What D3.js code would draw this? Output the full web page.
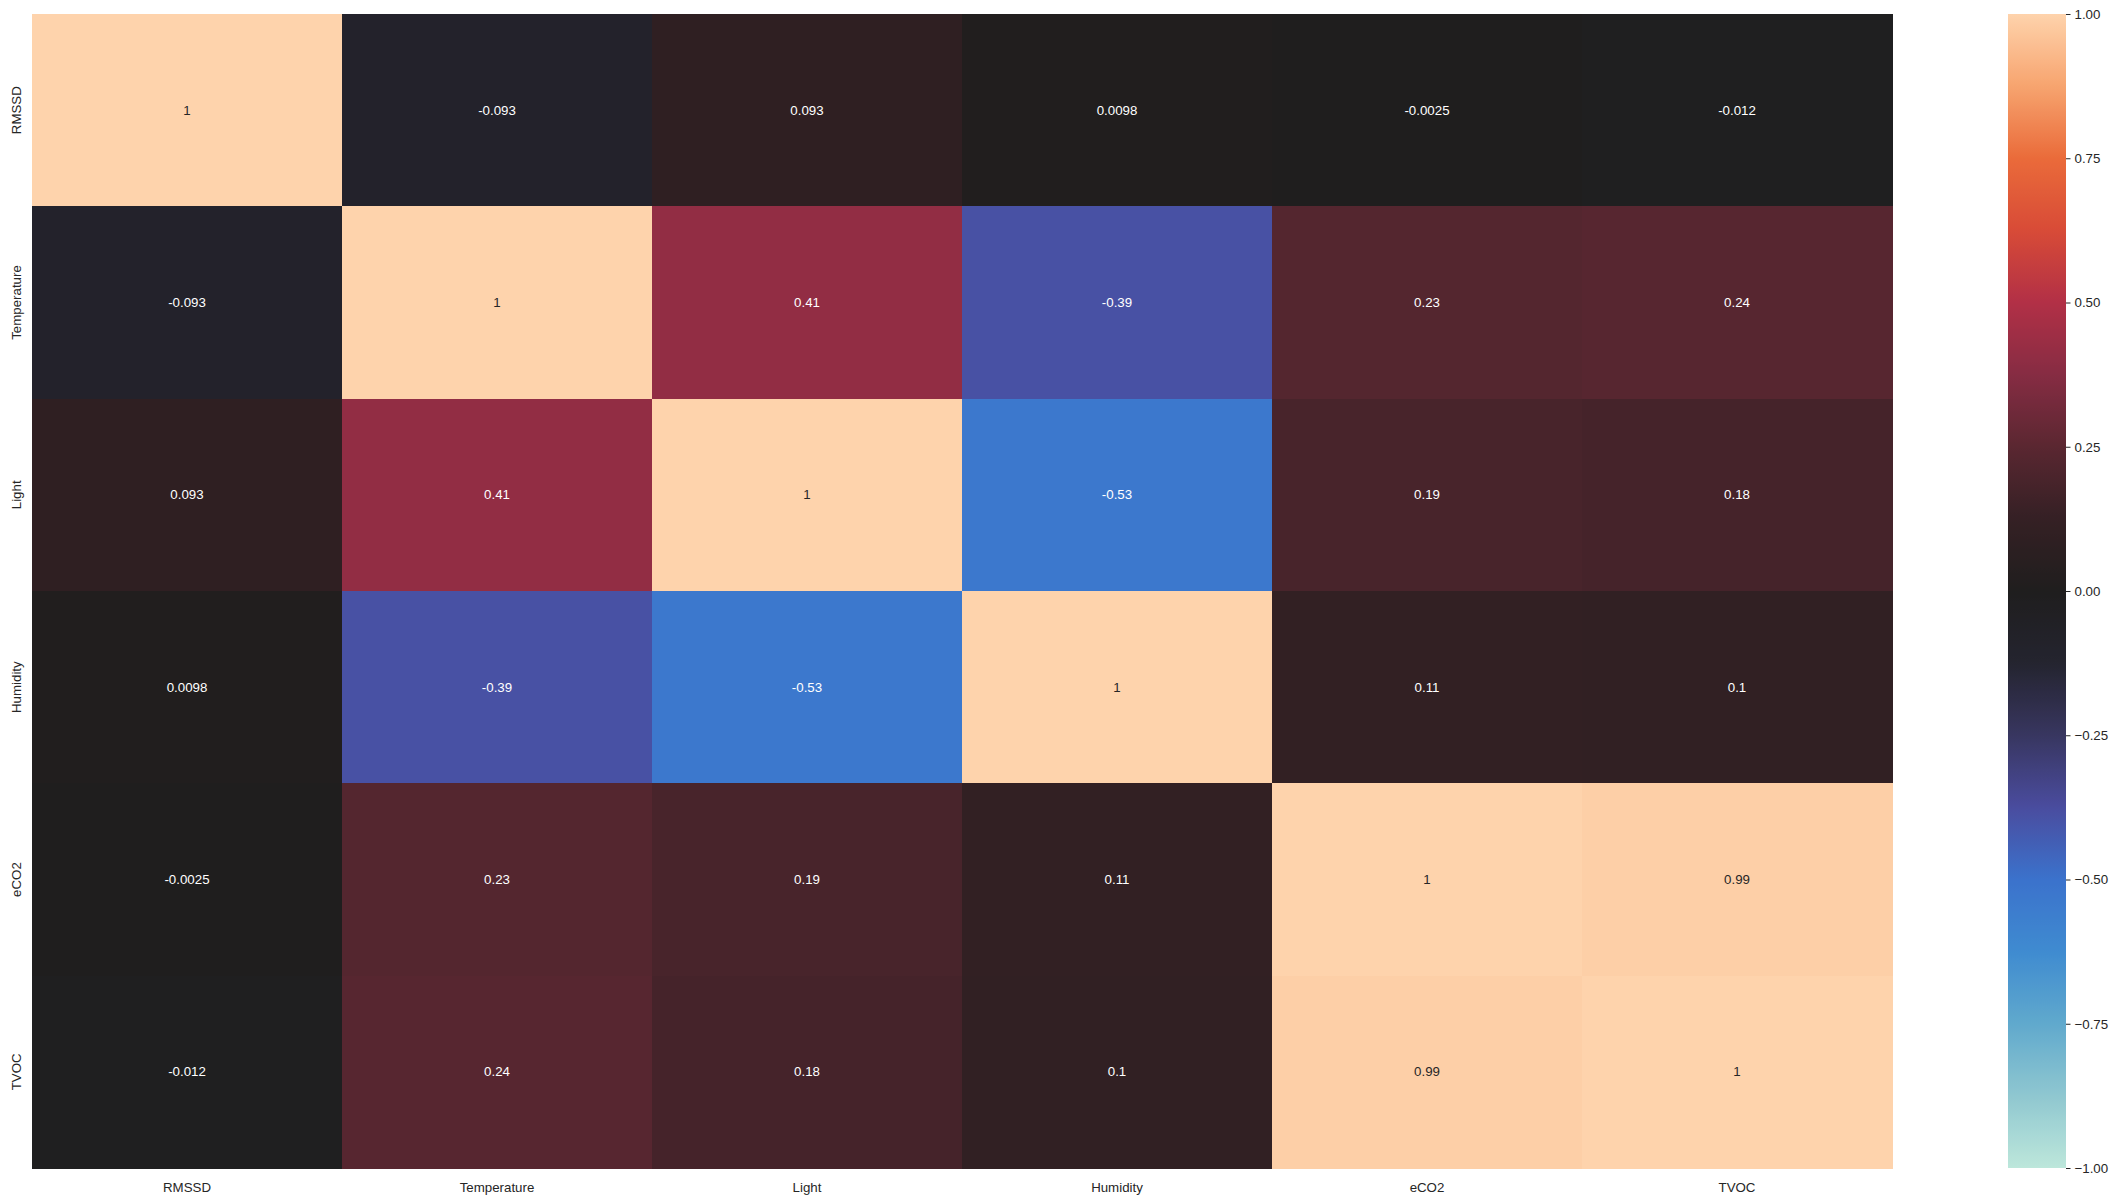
<!DOCTYPE html>
<html>
<head>
<meta charset="utf-8">
<script src="https://cdn.jsdelivr.net/npm/d3@7"></script>
<style>
  html, body { margin: 0; padding: 0; background: #fff; }
  text { font-family: "Liberation Sans", Arial, sans-serif; }
</style>
</head>
<body>
<div id="vis"></div>
<script>
// variables in the correlation matrix (row and column order)
const variables = ['RMSSD', 'Temperature', 'Light', 'Humidity', 'eCO2', 'TVOC'];

// one row of the matrix per variable
const rowRMSSD       = [1, -0.093, 0.093, 0.0098, -0.0025, -0.012];
const rowTemperature = [-0.093, 1, 0.41, -0.39, 0.23, 0.24];
const rowLight       = [0.093, 0.41, 1, -0.53, 0.19, 0.18];
const rowHumidity    = [0.0098, -0.39, -0.53, 1, 0.11, 0.1];
const rowECO2        = [-0.0025, 0.23, 0.19, 0.11, 1, 0.99];
const rowTVOC        = [-0.012, 0.24, 0.18, 0.1, 0.99, 1];

const colorbarTicks = [-1, -0.75, -0.5, -0.25, 0, 0.25, 0.5, 0.75, 1];

// approximation of seaborn "icefire"
const iceStops = [
  [-1.0, '#bde7db'], [-0.875, '#8fc7d0'], [-0.75, '#60a9cd'], [-0.625, '#3f8bd0'],
  [-0.5, '#3b72cc'], [-0.375, '#4a4c9f'], [-0.25, '#383660'], [-0.125, '#24242f'],
  [0, '#1f1e1e'], [0.125, '#352024'], [0.25, '#5a2731'], [0.375, '#862c43'],
  [0.5, '#b23046'], [0.625, '#d84b37'], [0.75, '#ea6b3a'], [0.875, '#f7a46f'],
  [1.0, '#fed3ac']
];

const rows = [rowRMSSD, rowTemperature, rowLight, rowHumidity, rowECO2, rowTVOC];
const cells = [];
rows.forEach((r, i) => r.forEach((v, j) => cells.push({ row: variables[i], col: variables[j], value: v })));

const W = 2121, H = 1201;
const plot = { left: 32, right: 1892, top: 14, bottom: 1168 };
const cbar = { left: 2008, right: 2066 };

const colour = d3.scaleLinear()
  .domain(iceStops.map(d => d[0]))
  .range(iceStops.map(d => d[1]))
  .interpolate(d3.interpolateRgb)
  .clamp(true);

const x = d3.scaleBand().domain(variables).range([plot.left, plot.right]);
const y = d3.scaleBand().domain(variables).range([plot.top, plot.bottom]);
const cy = d3.scaleLinear().domain([-1, 1]).range([plot.bottom, plot.top]);

const fmt = d3.formatLocale({ decimal: '.', thousands: ',', grouping: [3], currency: ['', ''], minus: '-' }).format('.2~g');

const $svg = d3.select('#vis').append('svg')
  .attr('width', W)
  .attr('height', H);

// cells
$svg.append('g').attr('class', 'cells')
  .selectAll('rect')
  .data(cells)
  .join('rect')
    .attr('x', d => x(d.col))
    .attr('y', d => y(d.row))
    .attr('width', x.bandwidth() + 0.5)
    .attr('height', y.bandwidth() + 0.5)
    .attr('fill', d => colour(d.value))
    .attr('shape-rendering', 'crispEdges');

// annotations: dark text on light cells
function isLight(c) {
  const rgb = d3.rgb(c);
  const lin = v => { v /= 255; return v <= 0.03928 ? v / 12.92 : Math.pow((v + 0.055) / 1.055, 2.4); };
  return 0.2126 * lin(rgb.r) + 0.7152 * lin(rgb.g) + 0.0722 * lin(rgb.b) > 0.408;
}

$svg.append('g').attr('class', 'annot')
  .selectAll('text')
  .data(cells)
  .join('text')
    .attr('x', d => x(d.col) + x.bandwidth() / 2)
    .attr('y', d => y(d.row) + y.bandwidth() / 2)
    .attr('dy', '0.35em')
    .attr('text-anchor', 'middle')
    .attr('font-size', '13.3px')
    .attr('fill', d => isLight(colour(d.value)) ? '#262626' : '#ffffff')
    .text(d => fmt(d.value));

// x labels
$svg.append('g').attr('class', 'axis x')
  .selectAll('text')
  .data(variables)
  .join('text')
    .attr('x', d => x(d) + x.bandwidth() / 2)
    .attr('y', plot.bottom + 15)
    .attr('dy', '0.71em')
    .attr('text-anchor', 'middle')
    .attr('font-size', '13.3px')
    .attr('fill', '#262626')
    .text(d => d);

// y labels, rotated
$svg.append('g').attr('class', 'axis y')
  .selectAll('text')
  .data(variables)
  .join('text')
    .attr('transform', d => `translate(${plot.left - 11}, ${y(d) + y.bandwidth() / 2}) rotate(-90)`)
    .attr('text-anchor', 'middle')
    .attr('font-size', '13.3px')
    .attr('fill', '#262626')
    .text(d => d);

// colorbar
const grad = $svg.append('defs').append('linearGradient')
  .attr('id', 'cbar-grad')
  .attr('x1', 0).attr('x2', 0).attr('y1', 1).attr('y2', 0);

d3.range(0, 201).forEach(i => {
  const v = -1 + i / 100;
  grad.append('stop')
    .attr('offset', `${i / 2}%`)
    .attr('stop-color', colour(v));
});

$svg.append('rect')
  .attr('x', cbar.left)
  .attr('y', plot.top)
  .attr('width', cbar.right - cbar.left)
  .attr('height', plot.bottom - plot.top)
  .attr('fill', 'url(#cbar-grad)');

const cAxis = d3.axisRight(cy)
  .tickValues(colorbarTicks)
  .tickFormat(d3.format('.2f'))
  .tickSize(4.5)
  .tickPadding(4);

$svg.append('g')
  .attr('class', 'axis cbar')
  .attr('transform', `translate(${cbar.right}, 0)`)
  .call(cAxis)
  .call(g => g.select('.domain').remove())
  .call(g => g.selectAll('.tick line').attr('stroke', '#262626').attr('stroke-width', 1))
  .call(g => g.selectAll('.tick text')
    .attr('font-family', '"Liberation Sans", Arial, sans-serif')
    .attr('font-size', '13.3px')
    .attr('fill', '#262626'));
</script>
</body>
</html>
